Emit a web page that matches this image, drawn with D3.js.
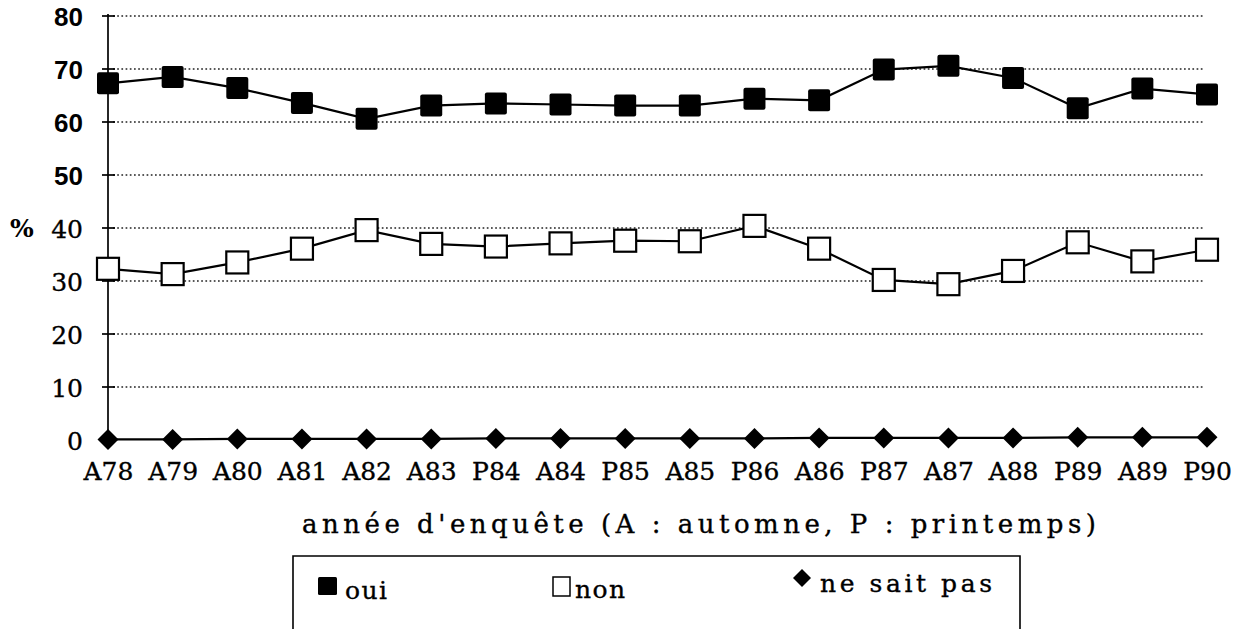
<!DOCTYPE html>
<html>
<head>
<meta charset="utf-8">
<script src="https://cdn.jsdelivr.net/npm/d3@7"></script>
<style>
  html, body { margin: 0; padding: 0; background: #fff; }
  svg { display: block; }
  .serif { font-family: 'DejaVu Serif', serif; stroke: #000; stroke-width: 0.35px; }
</style>
</head>
<body>
<svg id="chart" width="1245" height="629"></svg>
<script>
const categories = ["A78","A79","A80","A81","A82","A83","P84","A84","P85","A85","P86","A86","P87","A87","A88","P89","A89","P90"];
const oui = [67.3, 68.5, 66.4, 63.6, 60.6, 63.1, 63.5, 63.3, 63.1, 63.1, 64.4, 64.1, 69.9, 70.6, 68.3, 62.6, 66.3, 65.2];
const non = [32.3, 31.3, 33.5, 36.1, 39.6, 37.0, 36.5, 37.1, 37.6, 37.5, 40.4, 36.1, 30.2, 29.4, 31.9, 37.3, 33.7, 35.9];
const nsp = [0.1, 0.1, 0.2, 0.2, 0.2, 0.2, 0.3, 0.3, 0.3, 0.3, 0.3, 0.4, 0.4, 0.4, 0.4, 0.5, 0.5, 0.5];
const yTicks = [0, 10, 20, 30, 40, 50, 60, 70, 80];
const yLabel = "%";
const xTitle = "année d'enquête (A : automne, P : printemps)";
const legendLabels = ["oui", "non", "ne sait pas"];

const svg = d3.select("#chart");
svg.append("rect").attr("width", 1245).attr("height", 629).attr("fill", "#fff");

const x = d3.scalePoint().domain(categories).range([108, 1207]);
const y = d3.scaleLinear().domain([0, 80]).range([440, 16]);
const gridRight = 1203;

// gridlines (dotted)
svg.append("g").selectAll("line")
  .data(yTicks.filter(d => d > 0))
  .join("line")
  .attr("x1", 113).attr("x2", gridRight)
  .attr("y1", d => y(d)).attr("y2", d => y(d))
  .attr("stroke", "#222").attr("stroke-width", 1.7)
  .attr("stroke-dasharray", "1.7,2.5");

// y axis labels via d3 axis
const yAxis = d3.axisLeft(y).tickValues(yTicks).tickSize(0).tickPadding(25);
const gy = svg.append("g").attr("transform", "translate(108,0)").call(yAxis);
gy.select(".domain").remove();
gy.selectAll(".tick text")
  .attr("fill", "#000")
  .attr("class", d => d >= 50 ? null : "serif")
  .attr("font-family", d => d >= 50 ? "'Liberation Sans', Arial, sans-serif" : "'DejaVu Serif', serif")
  .attr("font-weight", d => d >= 50 ? "bold" : "normal")
  .attr("font-size", d => d >= 50 ? 26 : 25)
  .attr("dy", "0.36em");
// axis line and crossing ticks
svg.append("line").attr("x1", 108).attr("x2", 108).attr("y1", y(80) - 2).attr("y2", y(0))
  .attr("stroke", "#000").attr("stroke-width", 1.7);
svg.append("g").selectAll("line")
  .data(yTicks.filter(d => d > 0))
  .join("line")
  .attr("x1", 102).attr("x2", 115)
  .attr("y1", d => y(d)).attr("y2", d => y(d))
  .attr("stroke", "#000").attr("stroke-width", 1.7);

svg.append("text").attr("x", 10).attr("y", y(40) + 9)
  .attr("font-family", "'DejaVu Serif', serif").attr("font-weight", "bold")
  .attr("font-size", 25).text(yLabel);

// x axis labels
const xAxis = d3.axisBottom(x).tickSize(0).tickPadding(0);
const gx = svg.append("g").attr("transform", "translate(0,460)").call(xAxis);
gx.select(".domain").remove();
gx.selectAll(".tick text")
  .attr("fill", "#000")
  .attr("class", "serif")
  .attr("font-size", 25)
  .attr("dy", "0.8em");

svg.append("text").attr("class", "serif").attr("x", 302).attr("y", 533)
  .attr("font-size", 26)
  .attr("textLength", 794).attr("lengthAdjust", "spacing")
  .text(xTitle);

// lines
const line = d3.line().x((d, i) => x(categories[i])).y(d => y(d));
[oui, non, nsp].forEach(s => {
  svg.append("path").datum(s).attr("d", line)
    .attr("fill", "none").attr("stroke", "#000").attr("stroke-width", 2.2);
});

// markers
svg.append("g").selectAll("rect")
  .data(oui).join("rect")
  .attr("x", (d, i) => x(categories[i]) - 11).attr("y", d => y(d) - 11)
  .attr("width", 22).attr("height", 22).attr("rx", 2)
  .attr("fill", "#000");
svg.append("g").selectAll("rect")
  .data(non).join("rect")
  .attr("x", (d, i) => x(categories[i]) - 11).attr("y", d => y(d) - 11)
  .attr("width", 22).attr("height", 22)
  .attr("fill", "#fff").attr("stroke", "#000").attr("stroke-width", 2.2);
const diamond = (cx, cy, r) => `M${cx},${cy - r}L${cx + r},${cy}L${cx},${cy + r}L${cx - r},${cy}Z`;
svg.append("g").selectAll("path")
  .data(nsp).join("path")
  .attr("d", (d, i) => diamond(x(categories[i]), y(d), 10.5))
  .attr("fill", "#000");

// legend
svg.append("path").attr("d", "M293,632V556H1020V632")
  .attr("fill", "none").attr("stroke", "#000").attr("stroke-width", 1.6);
svg.append("rect").attr("x", 318).attr("y", 577).attr("width", 19).attr("height", 18).attr("rx", 1.5).attr("fill", "#000");
svg.append("text").attr("class", "serif").attr("x", 345).attr("y", 599)
  .attr("font-size", 25)
  .attr("textLength", 42).attr("lengthAdjust", "spacing").text(legendLabels[0]);
svg.append("rect").attr("x", 553).attr("y", 577).attr("width", 17).attr("height", 19)
  .attr("fill", "#fff").attr("stroke", "#000").attr("stroke-width", 1.5);
svg.append("text").attr("class", "serif").attr("x", 575).attr("y", 598)
  .attr("font-size", 25)
  .attr("textLength", 50).attr("lengthAdjust", "spacing").text(legendLabels[1]);
svg.append("path").attr("d", diamond(802, 578, 9)).attr("fill", "#000");
svg.append("text").attr("class", "serif").attr("x", 820).attr("y", 592)
  .attr("font-size", 25)
  .attr("textLength", 172).attr("lengthAdjust", "spacing").text(legendLabels[2]);
</script>
</body>
</html>
